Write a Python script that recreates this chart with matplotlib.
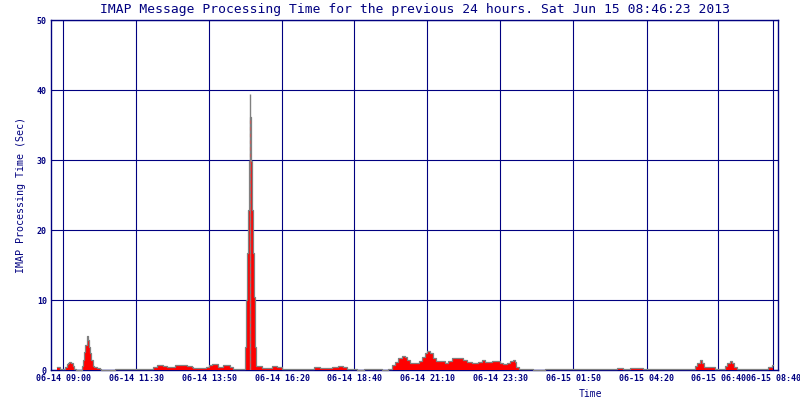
import matplotlib.pyplot as plt

# minutes since window start (06-14 08:46:23) and processing time in seconds
times = [12, 18, 28, 31, 34, 36, 40, 43, 46, 50, 62, 64, 66, 68, 71, 73, 75, 77, 80, 83,
         86, 91, 97, 100, 127, 203, 209, 222, 229, 246, 269, 279, 282, 308, 312, 318, 331,
         341, 355, 361, 384, 386, 388, 390, 392, 394, 397, 399, 401, 403, 405, 407, 417,
         437, 447, 457, 520, 533, 556, 569, 579, 586, 606, 619, 655, 668, 675, 681, 688,
         696, 701, 705, 712, 721, 728, 734, 741, 745, 751, 757, 763, 780, 787, 795, 817,
         823, 834, 846, 853, 860, 874, 889, 896, 903, 909, 915, 919, 922, 926, 955, 978,
         1122, 1133, 1147, 1172, 1276, 1280, 1285, 1289, 1293, 1298, 1315, 1335, 1339,
         1344, 1348, 1352, 1358, 1421, 1428]
values = [0.4, 0.15, 0.5, 0.8, 1.0, 1.15, 1.0, 0.6, 0.2, 0.0, 0.6, 1.4, 2.6, 3.6, 4.8, 4.3,
          3.3, 2.4, 1.4, 0.6, 0.4, 0.25, 0.15, 0.0, 0.2, 0.5, 0.7, 0.55, 0.5, 0.75, 0.55,
          0.4, 0.25, 0.5, 0.65, 0.8, 0.4, 0.7, 0.5, 0.15, 3.3, 10.0, 16.7, 22.8, 29.8, 36.2,
          29.8, 22.8, 16.7, 10.4, 3.3, 0.6, 0.35, 0.6, 0.4, 0.1, 0.5, 0.25, 0.45, 0.6, 0.4,
          0.2, 0.0, 0.15, 0.0, 0.15, 0.7, 1.2, 1.7, 2.05, 1.8, 1.4, 1.05, 0.95, 1.3, 1.8,
          2.4, 2.7, 2.4, 1.7, 1.35, 1.05, 1.35, 1.7, 1.5, 1.2, 0.95, 1.2, 1.4, 1.2, 1.3,
          1.05, 0.85, 0.95, 1.35, 1.45, 1.1, 0.5, 0.1, 0.0, 0.1, 0.35, 0.1, 0.35, 0.1, 0.55,
          1.05, 1.5, 1.05, 0.5, 0.4, 0.1, 0.55, 1.05, 1.25, 0.95, 0.5, 0.1, 0.4, 0.65]
end_time = 1431
peak_time = 395
peak_max = 39.5

tick_times = [24, 169, 313, 458, 601, 745, 890, 1034, 1180, 1322, 1431]
tick_labels = ['06-14 09:00', '06-14 11:30', '06-14 13:50', '06-14 16:20', '06-14 18:40',
               '06-14 21:10', '06-14 23:30', '06-15 01:50', '06-15 04:20', '06-15 06:40',
               '06-15 08:40']
y_ticks = [0, 10, 20, 30, 40, 50]

NAVY = '#000080'
FONT = 'DejaVu Sans Mono'

fig = plt.figure(figsize=(8, 4), dpi=100)
ax = fig.add_axes([51 / 800, 30 / 400, 727 / 800, 350 / 400])

t = times + [end_time]
v = values + [values[-1]]
ax.fill_between(t, v, step='post', color='#ff0000', lw=0, zorder=3)
ax.plot(t, v, drawstyle='steps-post', color='#808080', lw=0.9, zorder=4, clip_on=False)
ax.vlines(peak_time, 0, peak_max, color='#808080', lw=1.0, zorder=4)
ax.vlines(peak_time, 0, max(values), color='#c06060', lw=0.8, linestyle=(0, (3, 3)), zorder=5)

ax.set_xlim(0, 1440)
ax.set_ylim(0, 50)
ax.set_xticks(tick_times)
ax.set_xticklabels(tick_labels)
ax.set_yticks(y_ticks)
ax.grid(True, color=NAVY, lw=0.8)
ax.set_axisbelow(True)
ax.tick_params(length=0, pad=3, colors=NAVY, labelsize=6)
for lab in ax.get_xticklabels() + ax.get_yticklabels():
    lab.set_family(FONT)
    lab.set_weight('bold')
for s in ax.spines.values():
    s.set_color(NAVY)
    s.set_linewidth(1.0)

ax.set_ylabel('IMAP Processing Time (Sec)', family=FONT, fontsize=7.2, color=NAVY, labelpad=8)
fig.text(590 / 800, 1 - 394 / 400, 'Time', family=FONT, fontsize=7, color=NAVY,
         ha='center', va='center')
fig.text(415 / 800, 1 - 9 / 400,
         'IMAP Message Processing Time for the previous 24 hours. Sat Jun 15 08:46:23 2013',
         family=FONT, fontsize=9.4, color=NAVY, ha='center', va='center')

fig.savefig('out.png', dpi=100, facecolor='white')
